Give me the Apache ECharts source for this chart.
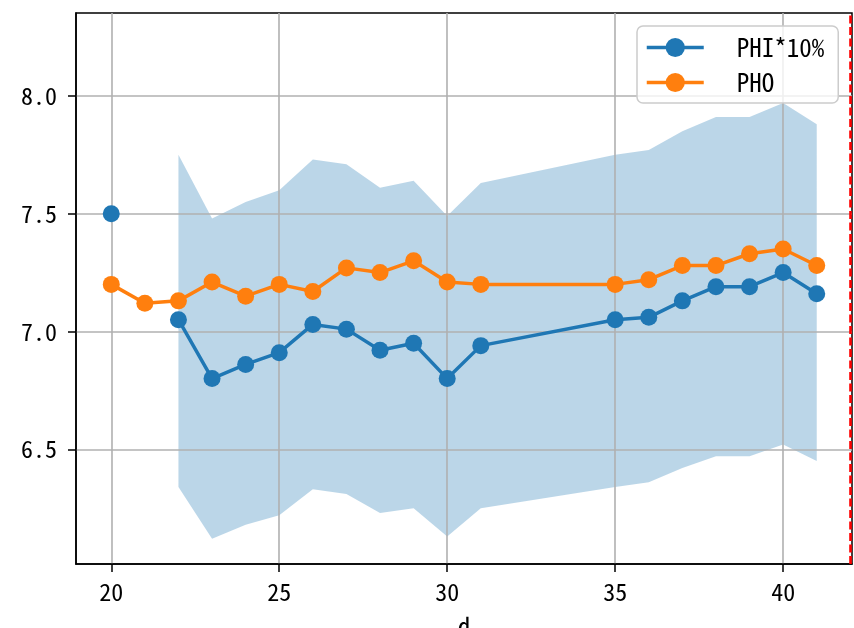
<!DOCTYPE html>
<html>
<head>
<meta charset="utf-8">
<script src="https://cdn.jsdelivr.net/npm/echarts@6/dist/echarts.min.js"></script>
<style>
html,body{margin:0;padding:0;background:#fff;}
#chart{width:854px;height:628px;}
</style>
</head>
<body>
<div id="chart"></div>
<script>
const xValues   = [20, 21, 22, 23, 24, 25, 26, 27, 28, 29, 30, 31, 35, 36, 37, 38, 39, 40, 41];
const phiValues = [7.50, null, 7.05, 6.80, 6.86, 6.91, 7.03, 7.01, 6.92, 6.95, 6.80, 6.94, 7.05, 7.06, 7.13, 7.19, 7.19, 7.25, 7.16];
const phoValues = [7.20, 7.12, 7.13, 7.21, 7.15, 7.20, 7.17, 7.27, 7.25, 7.30, 7.21, 7.20, 7.20, 7.22, 7.28, 7.28, 7.33, 7.35, 7.28];
const bandLower = [null, null, 6.34, 6.12, 6.18, 6.22, 6.33, 6.31, 6.23, 6.25, 6.13, 6.25, 6.34, 6.36, 6.42, 6.47, 6.47, 6.52, 6.45];
const bandUpper = [null, null, 7.75, 7.48, 7.55, 7.60, 7.73, 7.71, 7.61, 7.64, 7.49, 7.63, 7.75, 7.77, 7.85, 7.91, 7.91, 7.97, 7.88];
const xTicks = [20, 25, 30, 35, 40];
const yTicks = [6.5, 7.0, 7.5, 8.0];
const seriesNames = ['PHI*10%', 'PHO'];
const xAxisName = 'd';
const vLineX = 42;

const FONT = '"Noto Sans Mono CJK SC", "Noto Sans CJK SC", sans-serif';
const pair = (xs, ys) => xs.map((x, i) => [x, ys[i] == null ? '-' : ys[i]]);
const bandData = xValues
  .map((x, i) => [x, bandLower[i], bandUpper[i]])
  .filter(d => d[1] != null && d[2] != null);

const chart = echarts.init(document.getElementById('chart'), null, {renderer: 'canvas'});
chart.setOption({
  animation: false,
  backgroundColor: '#ffffff',
  grid: {left: 76, top: 13, width: 776, height: 551, outerBoundsMode: 'none', containLabel: false,
         show: true, borderColor: '#000', borderWidth: 1.5, backgroundColor: 'transparent'},
  legend: {
    data: seriesNames,
    orient: 'vertical',
    left: 637, top: 26,
    padding: [9, 14, 8, 8],
    itemWidth: 57, itemHeight: 24, itemGap: 10,
    backgroundColor: 'rgba(255,255,255,0.8)',
    borderColor: '#cccccc', borderWidth: 1.5, borderRadius: 6,
    lineStyle: {width: 3.5},
    textStyle: {fontFamily: FONT, fontSize: 25, color: '#000', padding: [0, 0, 0, 28]}
  },
  xAxis: {
    type: 'value', min: 18.95, max: 42.05, z: 1.5,
    name: xAxisName, nameLocation: 'middle', nameGap: 50,
    nameTextStyle: {fontFamily: FONT, fontSize: 25, color: '#000'},
    axisLine: {show: true, onZero: false, lineStyle: {color: '#000', width: 1.5}},
    axisTick: {show: true, length: 8, lineStyle: {color: '#000', width: 1.5}, customValues: xTicks},
    axisLabel: {fontFamily: FONT, fontSize: 24, color: '#000', margin: 16, customValues: xTicks, formatter: v => String(v)},
    splitLine: {show: true, lineStyle: {color: '#b0b0b0', width: 1.6}}
  },
  yAxis: {
    type: 'value', min: 6.013, max: 8.352, z: 1.5,
    axisLine: {show: true, onZero: false, lineStyle: {color: '#000', width: 1.5}},
    axisTick: {show: true, length: 8, lineStyle: {color: '#000', width: 1.5}, customValues: yTicks},
    axisLabel: {fontFamily: FONT, fontSize: 24, color: '#000', margin: 19, customValues: yTicks, formatter: v => v.toFixed(1)},
    splitLine: {show: true, lineStyle: {color: '#b0b0b0', width: 1.6}}
  },
  series: [
    {
      name: 'band', type: 'custom', z: 1, silent: true,
      data: bandData, encode: {x: 0, y: [1, 2]},
      renderItem: (params, api) => {
        if (params.dataIndex !== 0) return null;
        const pts = [];
        bandData.forEach(d => pts.push(api.coord([d[0], d[2]])));
        for (let i = bandData.length - 1; i >= 0; i--) pts.push(api.coord([bandData[i][0], bandData[i][1]]));
        return {type: 'polygon', shape: {points: pts}, style: {fill: 'rgba(31,119,180,0.3)'}};
      }
    },
    {
      name: seriesNames[0], type: 'line', z: 3,
      data: pair(xValues, phiValues), connectNulls: false,
      symbol: 'circle', symbolSize: 17, showAllSymbol: true,
      itemStyle: {color: '#1f77b4'}, lineStyle: {color: '#1f77b4', width: 3.5}
    },
    {
      name: seriesNames[1], type: 'line', z: 3,
      data: pair(xValues, phoValues),
      symbol: 'circle', symbolSize: 17, showAllSymbol: true,
      itemStyle: {color: '#ff7f0e'}, lineStyle: {color: '#ff7f0e', width: 3.5},
      markLine: {
        silent: true, symbol: 'none', animation: false,
        label: {show: false},
        lineStyle: {color: '#ff0000', type: [8, 3.5], width: 2.6},
        data: [{xAxis: vLineX}]
      }
    }
  ]
});
</script>
</body>
</html>
